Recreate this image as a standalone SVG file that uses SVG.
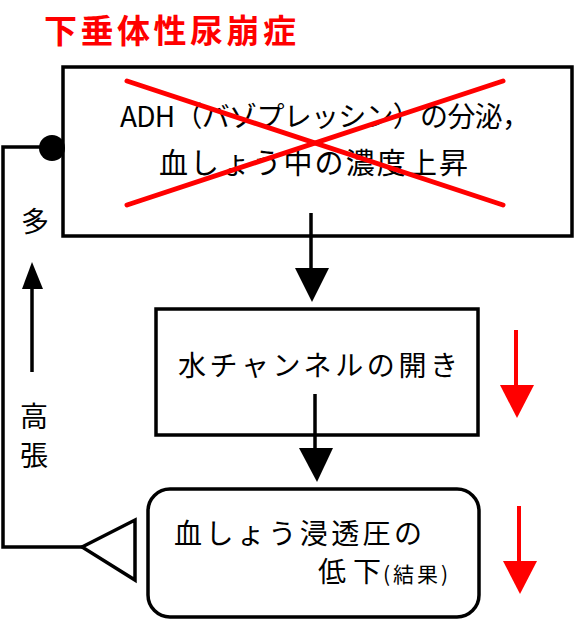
<svg xmlns="http://www.w3.org/2000/svg" width="579" height="621" viewBox="0 0 579 621">
<style>
.t{font-family:"Noto Sans CJK JP","Noto Sans",sans-serif;fill:#000}
.box{fill:#fff;stroke:#000;stroke-width:3.5}
.ln{fill:none;stroke:#000;stroke-width:3.5}
.rl{fill:none;stroke:#f00;stroke-width:4}
.head{fill:#000;stroke:none}
.rhead{fill:#f00;stroke:none}
</style>
<rect width="579" height="621" fill="#fff"/>
<g id="title">
<text class="t" x="44" y="43" font-size="33" font-weight="bold" style="fill:#f00" textLength="252" lengthAdjust="spacing">下垂体性尿崩症</text>
</g>
<g id="node-adh">
<rect class="box" x="63" y="67" width="509" height="169"/>
<text class="t" x="120" y="127" font-size="28" textLength="410" lengthAdjust="spacing">ADH（バゾプレッシン）の分泌，</text>
<text class="t" x="159" y="174" font-size="29" textLength="309" lengthAdjust="spacing">血しょう中の濃度上昇</text>
<g id="cross">
<line x1="127" y1="81" x2="503" y2="205" stroke="#f00" stroke-width="5" stroke-linecap="round"/>
<line x1="127" y1="205" x2="503" y2="81" stroke="#f00" stroke-width="5" stroke-linecap="round"/>
</g>
</g>
<g id="node-water">
<rect class="box" x="156" y="309" width="322" height="126"/>
<text class="t" x="178" y="376" font-size="28" textLength="280" lengthAdjust="spacing">水チャンネルの開き</text>
</g>
<g id="node-osm">
<rect class="box" x="148" y="489" width="331" height="128" rx="22" ry="22"/>
<text class="t" x="174" y="544" font-size="28" textLength="248" lengthAdjust="spacing">血しょう浸透圧の</text>
<text class="t" x="318" y="582" font-size="28" textLength="63" lengthAdjust="spacing">低下</text>
<text class="t" x="383" y="582" font-size="21" textLength="65" lengthAdjust="spacing">(結果)</text>
</g>
<g id="labels">
<text class="t" x="21" y="232" font-size="28">多</text>
<text class="t" x="20" y="427" font-size="28">高</text>
<text class="t" x="20" y="466" font-size="28">張</text>
</g>
<g id="connectors">
<line class="ln" x1="311" y1="213" x2="311" y2="270"/>
<polygon class="head" points="295,268 329,268 312,302"/>
<line class="ln" x1="315" y1="394" x2="315" y2="450"/>
<polygon class="head" points="299,448 333,448 317,482"/>
<polyline class="ln" points="82,547 3,547 3,147 45,147"/>
<circle cx="52" cy="148" r="13" fill="#000"/>
<polygon points="82,547 135,520 135,580" fill="#fff" stroke="#000" stroke-width="3.5" stroke-linejoin="miter"/>
<line class="ln" x1="32" y1="372" x2="32" y2="287"/>
<polygon class="head" points="22,289 43,289 32,262"/>
<line class="rl" x1="516" y1="330" x2="516" y2="387"/>
<polygon class="rhead" points="500,385 534,385 517,418"/>
<line class="rl" x1="519" y1="506" x2="519" y2="563"/>
<polygon class="rhead" points="503,561 537,561 520,594"/>
</g>
</svg>
